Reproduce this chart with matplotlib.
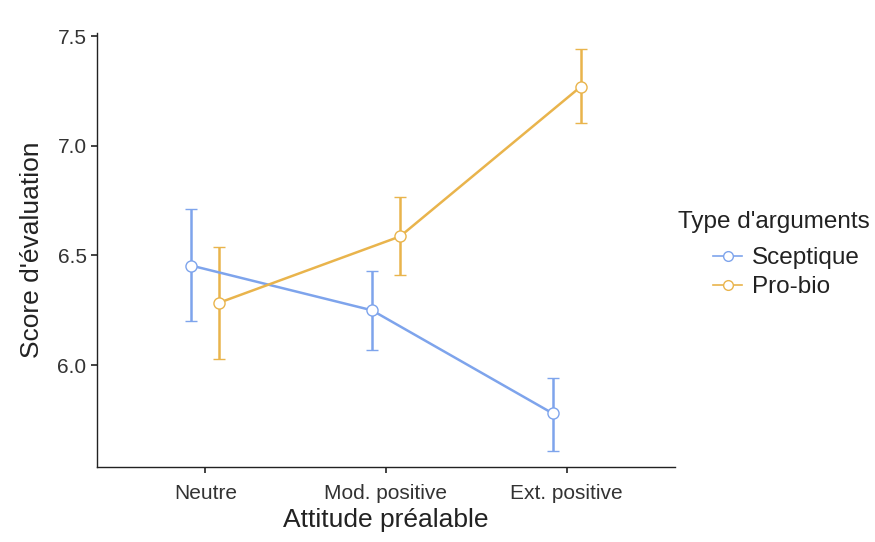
import matplotlib
matplotlib.use('Agg')
import matplotlib.pyplot as plt
from matplotlib.lines import Line2D
import numpy as np

plt.rcParams['font.family'] = ['Liberation Sans', 'DejaVu Sans']

# data
categories = ['Neutre', 'Mod. positive', 'Ext. positive']
groups = ['Sceptique', 'Pro-bio']
sceptique_mean = [6.454, 6.25, 5.78]
sceptique_low = [6.20, 6.07, 5.61]
sceptique_high = [6.71, 6.43, 5.94]
probio_mean = [6.285, 6.587, 7.27]
probio_low = [6.03, 6.41, 7.105]
probio_high = [6.54, 6.765, 7.44]

colors = {'Sceptique': '#7ea4ec', 'Pro-bio': '#e9b44c'}
dodge = 0.078

fig = plt.figure(figsize=(8.75, 5.42), dpi=100)
ax = fig.add_axes([97 / 875, 1 - 467 / 542, (675 - 97) / 875, (467 - 33) / 542])

x = np.arange(len(categories))
series = [
    ('Sceptique', sceptique_mean, sceptique_low, sceptique_high, -dodge),
    ('Pro-bio', probio_mean, probio_low, probio_high, dodge),
]
handles = []
for name, mean, low, high, off in series:
    mean = np.array(mean)
    yerr = [mean - np.array(low), np.array(high) - mean]
    ax.errorbar(x + off, mean, yerr=yerr, color=colors[name], lw=1.8,
                capsize=4, capthick=1.8, marker='o', markersize=8,
                markerfacecolor='white', markeredgecolor=colors[name],
                markeredgewidth=1.0, zorder=3)
    # legend key: line with open circle, no error bar
    handles.append(Line2D([], [], color=colors[name], lw=1.2, marker='o',
                          markersize=7, markerfacecolor='white',
                          markeredgecolor=colors[name], label=name))

ax.set_xlim(-0.6, 2.6)
ax.set_ylim(5.535, 7.515)
ax.set_xticks(x)
ax.set_xticklabels(categories)
ax.set_yticks([6.0, 6.5, 7.0, 7.5])
ax.set_yticklabels(['6.0', '6.5', '7.0', '7.5'])
for s in ['top', 'right']:
    ax.spines[s].set_visible(False)
for s in ['left', 'bottom']:
    ax.spines[s].set_color('#222222')
    ax.spines[s].set_linewidth(1.0)
ax.tick_params(axis='both', labelsize=15, colors='#222222', length=4, width=1.2)
ax.tick_params(axis='both', labelcolor='#333333')
ax.tick_params(axis='x', pad=8)
ax.set_xlabel('Attitude préalable', fontsize=19, color='#222222', labelpad=4)
ax.set_ylabel("Score d'évaluation", fontsize=19, color='#222222', labelpad=10)

# legend title drawn separately so the gap to the keys matches
fig.text(870 / 875, 1 - 222 / 542, "Type d'arguments", fontsize=17.5,
         color='#222222', ha='right', va='center')
leg = fig.legend(handles=handles, loc='upper left',
                 bbox_to_anchor=(713 / 875, 1 - 247 / 542), frameon=False,
                 fontsize=17.5, handlelength=1.2, handletextpad=0.4,
                 labelspacing=0.3, borderpad=0, borderaxespad=0)
for t in leg.get_texts():
    t.set_color('#222222')

fig.savefig('out.png', dpi=100)
